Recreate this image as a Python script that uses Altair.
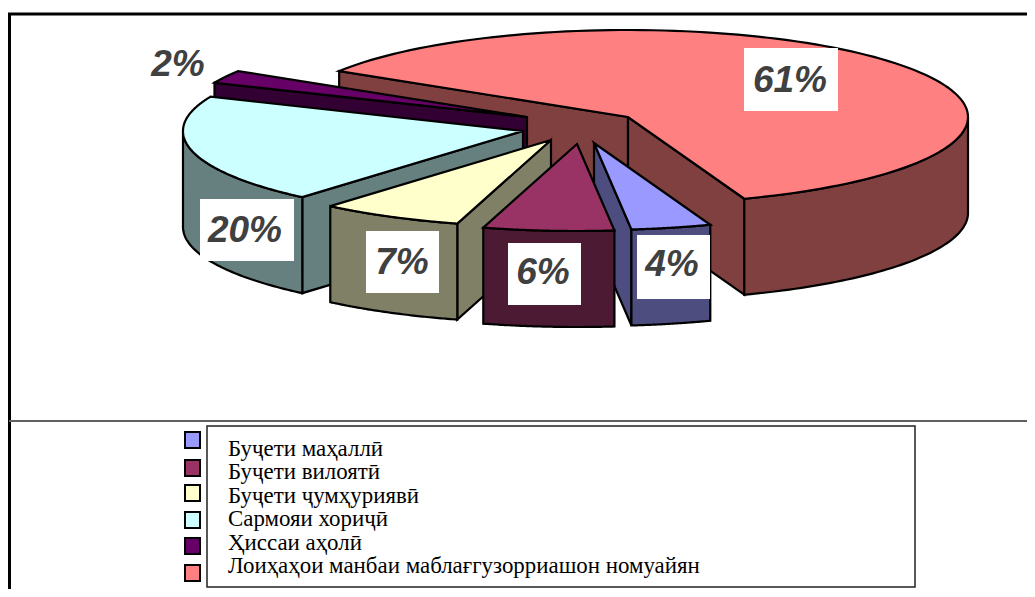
import numpy as np
import altair as alt

# --- data ---
categories = ["Буҷети маҳаллӣ", "Буҷети вилоятӣ", "Буҷети ҷумҳуриявӣ",
              "Сармояи хориҷӣ", "Ҳиссаи аҳолӣ",
              "Лоиҳаҳои манбаи маблағгузорриашон номуайян"]
shares = [3.8, 6.2, 6.8, 20.2, 2.4, 60.6]
top_colors = ["#9999FF", "#993366", "#FFFFCC", "#CCFFFF", "#660066", "#FF8080"]
side_colors = ["#4D4D80", "#4D1A33", "#808066", "#668080", "#330033", "#804040"]

# --- layout (screen pixels) ---
W, H, OFF = 1019, 581, 8
START = 70.0
RX, RY, DEPTH = 340.0, 87.0, 96.0
apex = [(594, 143), (577, 144), (551, 140), (523, 131), (527, 117), (628, 117)]
paint_order = [5, 4, 3, 2, 0, 1]
label_boxes = [(637, 710, 235, 299), (508, 581, 243, 305), (366, 439, 231, 293),
               (200, 294, 199, 261), (150, 207, 40, 88), (744, 838, 48, 111)]
label_pos = [(672, 265), (543, 273), (402, 263), (245, 231), (178, 65), (790, 81)]
legend_y = [440, 468, 493, 520, 546, 573]
legend_text_y = [449, 472, 496, 519, 543, 566]

# --- slice geometry derived from the shares ---
def rim(c, a):
    r = np.radians(a)
    return (c[0] + RX * np.cos(r) - OFF, c[1] + RY * np.sin(r) - OFF)

def down(p):
    return (p[0], p[1] + DEPTH)

def poly(points, fill):
    pts = [[float(x), float(y)] for x, y in points]
    pts.append(pts[0])
    return {"type": "Feature", "properties": {"fill": fill},
            "geometry": {"type": "Polygon", "coordinates": [pts]}}

edges = np.concatenate([[0], np.cumsum(shares)]) * 3.6 + START
features = []
for i in paint_order:
    a0, a1 = edges[i], edges[i + 1]
    c = apex[i]
    o = (c[0] - OFF, c[1] - OFF)
    # cut faces that look towards the viewer
    if np.sin(np.radians(a0 - 90)) > 0:
        e = rim(c, a0)
        features.append(poly([o, e, down(e), down(o)], side_colors[i]))
    if np.sin(np.radians(a1 + 90)) > 0:
        e = rim(c, a1)
        features.append(poly([o, e, down(e), down(o)], side_colors[i]))
    # outer wall, front half only
    for k in (0, 360):
        lo, hi = max(a0, k), min(a1, k + 180)
        if lo < hi:
            arc = [rim(c, a) for a in np.linspace(lo, hi, 60)]
            features.append(poly(arc + [down(p) for p in arc[::-1]], side_colors[i]))
    # top face
    features.append(poly([o] + [rim(c, a) for a in np.linspace(a0, a1, 120)], top_colors[i]))

X = lambda f: alt.X(f, type="quantitative", scale=alt.Scale(domain=[0, W], range=[0, W]), axis=None)
Y = lambda f: alt.Y(f, type="quantitative", scale=alt.Scale(domain=[0, H], range=[0, H]), axis=None)

pie = alt.Chart(alt.Data(values=features)).mark_geoshape(
    stroke="#000000", strokeWidth=2.2, strokeJoin="miter"
).encode(
    fill=alt.Fill("properties.fill:N", scale=None)
).project(type="identity", scale=1, translate=[0, 0])

def sx(v): return min(v - OFF, W)
def sy(v): return min(v - OFF, H)

box_data = alt.Data(values=[{"x": sx(a), "x2": sx(b), "y": sy(c), "y2": sy(d)} for a, b, c, d in label_boxes])
boxes = alt.Chart(box_data).mark_rect(color="#FFFFFF").encode(x=X("x"), x2="x2", y=Y("y"), y2="y2")

pct_data = alt.Data(values=[{"x": sx(p[0]), "y": sy(p[1]), "t": f"{round(s)}%"} for p, s in zip(label_pos, shares)])
pct = alt.Chart(pct_data).mark_text(
    font="Liberation Sans", fontSize=37, fontWeight="bold", fontStyle="italic",
    color="#404040", align="center", baseline="middle"
).encode(x=X("x"), y=Y("y"), text="t:N")

frame_rows = [
    {"x": sx(8), "x2": sx(1035), "y": sy(14), "y2": sy(14), "c": "#000000", "w": 3},
    {"x": sx(9.5), "x2": sx(9.5), "y": sy(13), "y2": sy(597), "c": "#000000", "w": 3},
    {"x": sx(9), "x2": sx(1035), "y": sy(421), "y2": sy(421), "c": "#606060", "w": 2},
]
frame = alt.Chart(alt.Data(values=frame_rows)).mark_rule().encode(
    x=X("x"), x2="x2", y=Y("y"), y2="y2",
    color=alt.Color("c:N", scale=None),
    strokeWidth=alt.StrokeWidth("w:Q", scale=None),
)

legend_box = alt.Chart(alt.Data(values=[{"x": sx(207), "x2": sx(915), "y": sy(426), "y2": sy(587)}])).mark_rect(
    fill="#FFFFFF", stroke="#222222", strokeWidth=1.5
).encode(x=X("x"), x2="x2", y=Y("y"), y2="y2")

sw_data = alt.Data(values=[{"x": sx(185), "x2": sx(200), "y": sy(v - 8), "y2": sy(v + 8), "c": c}
                           for v, c in zip(legend_y, top_colors)])
swatches = alt.Chart(sw_data).mark_rect(stroke="#000000", strokeWidth=2).encode(
    x=X("x"), x2="x2", y=Y("y"), y2="y2", fill=alt.Fill("c:N", scale=None))

lab_data = alt.Data(values=[{"x": sx(228), "y": sy(v), "t": t} for v, t in zip(legend_text_y, categories)])
labels = alt.Chart(lab_data).mark_text(
    font="Liberation Serif", fontSize=22.9, color="#000000", align="left", baseline="middle"
).encode(x=X("x"), y=Y("y"), text="t:N")

chart = alt.layer(frame, legend_box, swatches, labels, pie, boxes, pct).properties(
    width=W, height=H, padding=0, autosize=alt.AutoSizeParams(type="none"),
    background="#FFFFFF"
).configure_view(stroke=None)

chart.save("out.html", embed_options={"renderer": "svg", "actions": False})
